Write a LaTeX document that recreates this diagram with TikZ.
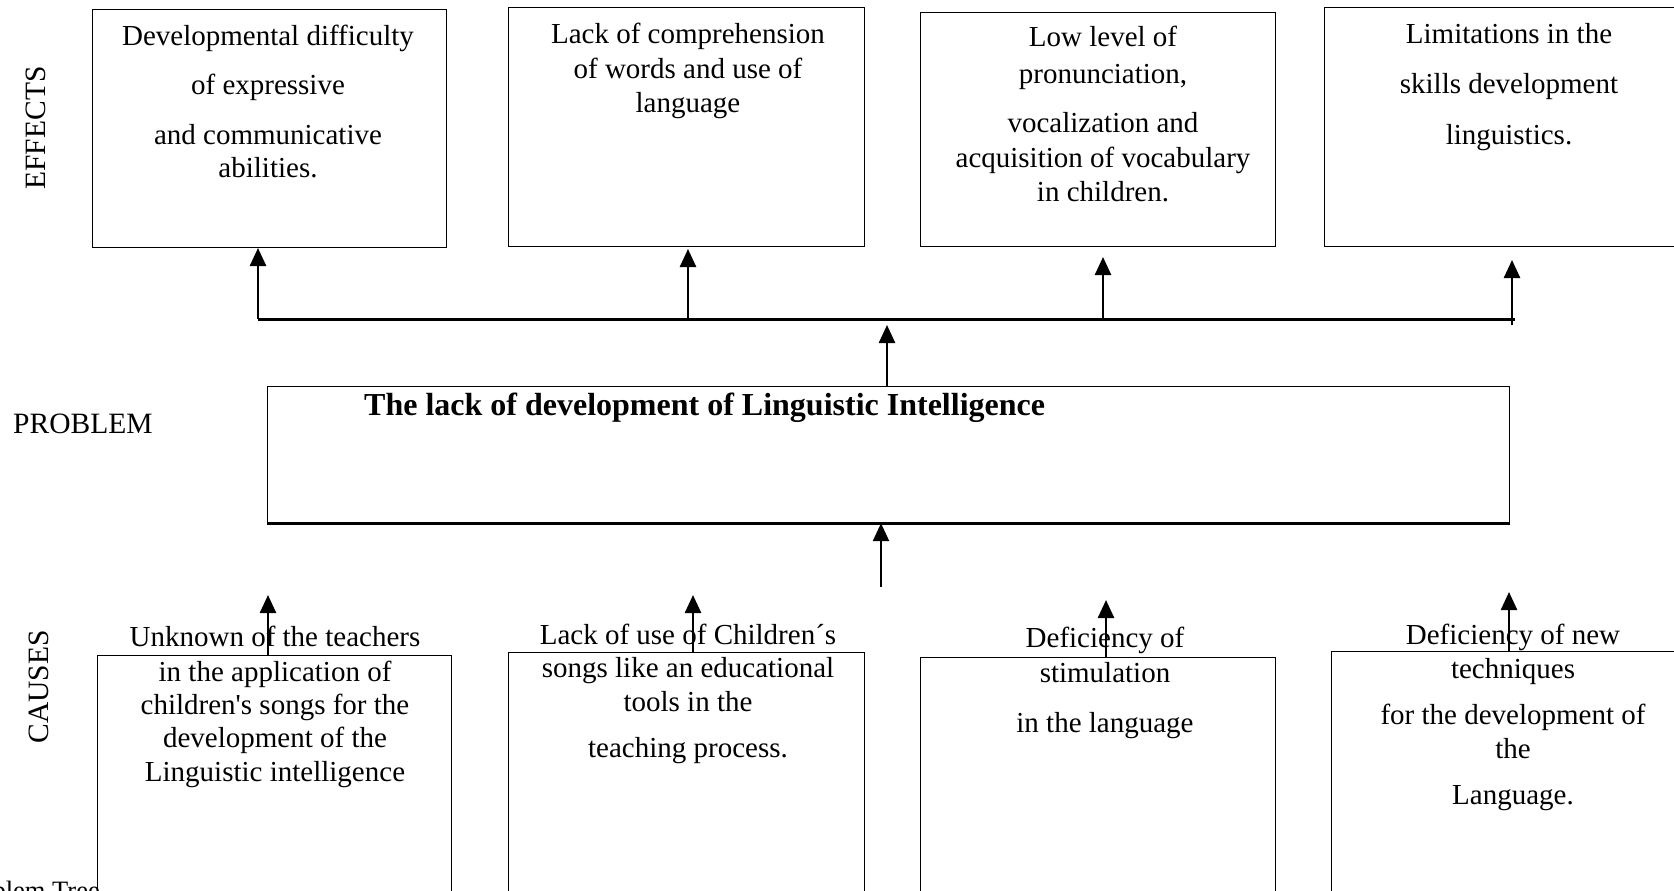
\documentclass[tikz,border=0pt]{standalone}
\usepackage{fontspec}
\setmainfont{Liberation Serif}
\usetikzlibrary{arrows.meta}
\tikzset{
  box/.style={draw, line width=1.2pt, anchor=north west, inner sep=0pt},
  tx/.style={anchor=base, font=\fontsize{29}{33}\selectfont, inner sep=0pt},
  lab/.style={font=\fontsize{29.5}{33}\selectfont, inner sep=0pt},
  arr/.style={line width=2.5pt, -{Triangle[width=16pt,length=18pt]}},
  bar/.style={line width=3pt},
}
\begin{document}
\begin{tikzpicture}[x=1pt,y=-1pt]
\useasboundingbox (0,0) rectangle (1674,891);
\clip (0,0) rectangle (1674,891);

% effect boxes
\node[box, minimum width=354pt, minimum height=238pt] (e1) at (92,9) {};
\node[box, minimum width=356pt, minimum height=239pt] (e2) at (508,7) {};
\node[box, minimum width=355pt, minimum height=234pt] (e3) at (920,12) {};
\node[box, minimum width=360pt, minimum height=239pt] (e4) at (1324,7) {};

% problem box
\node[box, minimum width=1242pt, minimum height=136pt] (p) at (267,386) {};
\draw[line width=3pt] (p.south west) -- (p.south east);

% cause boxes
\node[box, minimum width=354pt, minimum height=250pt] (c1) at (97,655) {};
\node[box, minimum width=356pt, minimum height=250pt] (c2) at (508,652) {};
\node[box, minimum width=355pt, minimum height=250pt] (c3) at (920,657) {};
\node[box, minimum width=355pt, minimum height=250pt] (c4) at (1331,651) {};

% side labels
\node[lab, rotate=90] (leff) at (36,128) {EFFECTS};
\node[lab, anchor=base west] (lprob) at (13,433) {PROBLEM};
\node[lab, rotate=90] (lcau) at (39,687) {CAUSES};
\node[tx, anchor=base east, font=\fontsize{26.5}{30}\selectfont] (cap) at (100,899) {Problem Tree};

% effect texts
\node[tx] (e1a) at (268,46) {Developmental difficulty};
\node[tx] (e1b) at (268,95) {of expressive};
\node[tx] (e1c) at (268,144) {and communicative};
\node[tx] (e1d) at (268,177) {abilities.};

\node[tx] (e2a) at (688,44) {Lack of comprehension};
\node[tx] (e2b) at (688,79) {of words and use of};
\node[tx] (e2c) at (688,112) {language};

\node[tx] (e3a) at (1103,47) {Low level of};
\node[tx] (e3b) at (1103,84) {pronunciation,};
\node[tx] (e3c) at (1103,132) {vocalization and};
\node[tx] (e3d) at (1103,167) {acquisition of vocabulary};
\node[tx] (e3e) at (1103,201) {in children.};

\node[tx] (e4a) at (1509,44) {Limitations in the};
\node[tx] (e4b) at (1509,94) {skills development};
\node[tx] (e4c) at (1509,144) {linguistics.};

% problem title
\node[tx, anchor=base west, font=\fontsize{32}{36}\selectfont\bfseries] (pt) at (364,415) {The lack of development of Linguistic Intelligence};

% cause texts
\node[tx] (c1a) at (275,646) {Unknown of the teachers};
\node[tx] (c1b) at (275,681) {in the application of};
\node[tx] (c1c) at (275,714) {children\textquotesingle s songs for the};
\node[tx] (c1d) at (275,747) {development of the};
\node[tx] (c1e) at (275,781) {Linguistic intelligence};

\node[tx] (c2a) at (688,644) {Lack of use of Children´s};
\node[tx] (c2b) at (688,677) {songs like an educational};
\node[tx] (c2c) at (688,711) {tools in the};
\node[tx] (c2d) at (688,757) {teaching process.};

\node[tx] (c3a) at (1105,647) {Deficiency of};
\node[tx] (c3b) at (1105,682) {stimulation};
\node[tx] (c3c) at (1105,732) {in the language};

\node[tx] (c4a) at (1513,644) {Deficiency of new};
\node[tx] (c4b) at (1513,678) {techniques};
\node[tx] (c4c) at (1513,724) {for the development of};
\node[tx] (c4d) at (1513,758) {the};
\node[tx] (c4e) at (1513,804) {Language.};

% effect connectors
\coordinate (h1) at (258,319);
\coordinate (h2) at (688,319);
\coordinate (h3) at (1103,319);
\coordinate (h4) at (1512,325);
\coordinate (hE) at (1515,319);
\coordinate (t1) at (258,248);
\coordinate (t2) at (688,249);
\coordinate (t3) at (1103,257);
\coordinate (t4) at (1512,260);
\draw[bar] (h1) -- (hE);
\draw[arr] (h1) -- (t1);
\draw[arr] (h2) -- (t2);
\draw[arr] (h3) -- (t3);
\draw[arr] (h4) -- (t4);

% problem to effects
\coordinate (pc) at (887,325);
\draw[arr] (p.north -| pc) -- (pc);

% causes to problem
\coordinate (cb) at (881,587);
\draw[arr] (cb) -- (p.south -| cb);

% cause connectors
\coordinate (u1) at (268,595);
\coordinate (u2) at (693,595);
\coordinate (u3) at (1106,600);
\coordinate (u4) at (1509,592);
\draw[arr] (c1.north -| u1) -- (u1);
\draw[arr] (c2.north -| u2) -- (u2);
\draw[arr] (c3.north -| u3) -- (u3);
\draw[arr] (c4.north -| u4) -- (u4);
\end{tikzpicture}
\end{document}
